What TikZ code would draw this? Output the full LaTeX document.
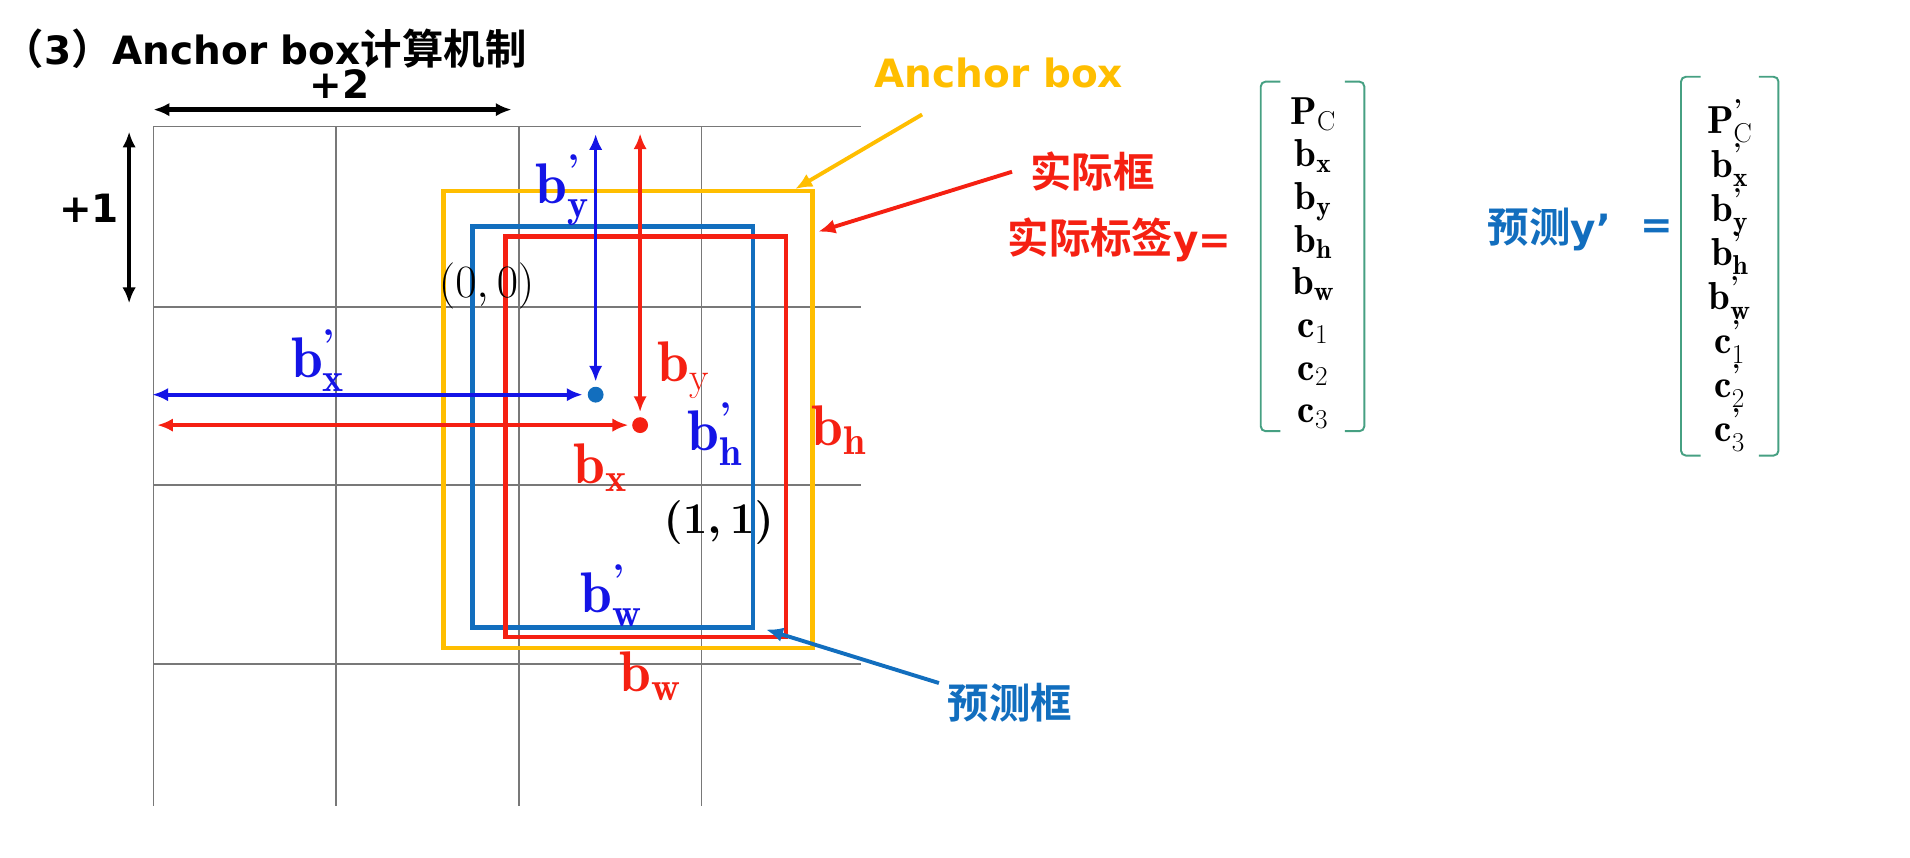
\documentclass[tikz,border=0pt]{standalone}
\usepackage{fix-cm}
\usepackage{amsmath}
\usepackage{fontspec}
\usetikzlibrary{arrows.meta,matrix,positioning}

\newfontfamily\cjk{Noto Sans CJK SC Bold}
\newfontfamily\latb{DejaVu Sans Bold}
\newcommand\zh[1]{{\cjk\fontsize{34}{40}\selectfont #1}}
\newcommand\bpr{^{\textbf{'}}}

\definecolor{ancgold}{RGB}{255,190,0}
\definecolor{truered}{RGB}{245,32,18}
\definecolor{predblue}{RGB}{18,110,190}
\definecolor{dimblue}{RGB}{20,20,230}
\definecolor{brkgreen}{RGB}{70,160,130}
\definecolor{cellgray}{RGB}{120,120,120}

\tikzset{
  sans/.style={font=\latb\fontsize{32}{38}\selectfont, inner sep=0pt},
  cjklbl/.style={font=\cjk\fontsize{34}{40}\selectfont, inner sep=0pt},
  blab/.style={font=\fontsize{47}{56}\selectfont, inner sep=0pt},
  boxframe/.style={draw, line width=3.6pt, inner sep=0pt},
  dot/.style={circle, inner sep=0pt, minimum size=13pt},
  dimarrow/.style={{Latex[length=13pt,width=11pt]}-{Latex[length=13pt,width=11pt]}, line width=3pt},
  callout/.style={-{Latex[length=14pt,width=12pt]}, line width=3.2pt},
  brk/.style={brkgreen, line width=1.6pt, rounded corners=4pt}
}

\begin{document}
\begin{tikzpicture}[x=1pt,y=-1pt]
    \useasboundingbox (0,0) rectangle (1568,704);

    % Title
    \node[sans, anchor=west] (title) at (2,40) {\zh{（}3\zh{）}Anchor box\zh{计算机制}};

    % Draw the grid
    \foreach \x in {126,276,426,576} {
        \draw[cellgray, line width=1.2pt] (\x,104) -- (\x,662);
    }
    \foreach \y in {104,252,398,545} {
        \draw[cellgray, line width=1.2pt] (126,\y) -- (707,\y);
    }

    % Cell size
    \coordinate (w0) at (126,90);
    \coordinate (w1) at (420,90);
    \coordinate (h0) at (106,108);
    \coordinate (h1) at (106,249);
    \draw[dimarrow, line width=3.6pt] (w0) -- (w1);
    \draw[dimarrow, line width=3.6pt] (h0) -- (h1);
    \node[sans] (plus2) at (279,69) {+2};
    \node[sans] (plus1) at (73,171) {+1};

    % Boxes
    \node[boxframe, ancgold, minimum width=303pt, minimum height=375pt] (ancbox) at (515.5,344.5) {};
    \node[boxframe, predblue, minimum width=230pt, minimum height=329pt] (predbox) at (503,350.5) {};
    \node[boxframe, truered, minimum width=230pt, minimum height=329pt] (truebox) at (530,358.5) {};

    % Centres and offsets
    \node[dot, fill=predblue] (ctrP) at (489,324) {};
    \node[dot, fill=truered] (ctrT) at (525.5,349) {};
    \coordinate (pTop) at (489,110);
    \coordinate (pLeft) at (125,324);
    \coordinate (tTop) at (525.5,109.5);
    \coordinate (tLeft) at (129,349);
    \draw[dimarrow, dimblue, shorten >=4pt] (pTop) -- (ctrP);
    \draw[dimarrow, dimblue, shorten >=4pt] (pLeft) -- (ctrP);
    \draw[dimarrow, truered, shorten >=4pt] (tTop) -- (ctrT);
    \draw[dimarrow, truered, shorten >=3pt] (tLeft) -- (ctrT);

    \node[font=\fontsize{38}{42}\selectfont, inner sep=0pt] (orig) at (399.5,235) {$(0,0)$};
    \node[font=\fontsize{36}{40}\selectfont, inner sep=0pt] (unit) at (590,429) {$\boldsymbol{(1,1)}$};

    \node[blab, dimblue] (lbpy) at (462,156) {$\mathbf{b}\bpr_{\mathbf{y}}$};
    \node[blab, dimblue] (lbpx) at (261,296) {$\mathbf{b}\bpr_{\mathbf{x}}$};
    \node[blab, truered] (lby) at (561,304) {$\mathbf{b}_{\mathrm{y}}$};
    \node[blab, dimblue] (lbph) at (587,356) {$\mathbf{b}\bpr_{\mathbf{h}}$};
    \node[blab, truered] (lbh) at (689,353) {$\mathbf{b}_{\mathbf{h}}$};
    \node[blab, truered] (lbx) at (493,384) {$\mathbf{b}_{\mathbf{x}}$};
    \node[blab, dimblue] (lbpw) at (502,489) {$\mathbf{b}\bpr_{\mathbf{w}}$};
    \node[blab, truered] (lbw) at (534,555) {$\mathbf{b}_{\mathbf{w}}$};

    % Call-outs
    \node[sans, ancgold] (anclbl) at (820,60) {Anchor box};
    \node[cjklbl, truered] (truelbl) at (897,141) {实际框};
    \node[cjklbl, predblue] (predlbl) at (829,577) {预测框};
    \coordinate (ancTail) at (757,94);
    \draw[callout, ancgold] (ancTail) -- ([xshift=-16pt]ancbox.north east);
    \draw[callout, truered] ([xshift=-15pt]truelbl.west) -- ([shift={(3,35)}]ancbox.north east);
    \draw[callout, predblue] ([xshift=-7pt]predlbl.north west) -- ([xshift=9pt]predbox.south east);

    % Label vectors
    \node[cjklbl, truered] (ylbl) at (919,197) {实际标签{\latb\fontsize{32}{38}\selectfont y=}};
    \matrix (ytrue) [matrix of math nodes, row sep=0pt, inner sep=0pt,
        nodes={font=\fontsize{32}{38}\selectfont, inner sep=0pt, anchor=center, text height=24pt, text depth=11pt}]
        at (1078,218) {
        \mathbf{P}_{\mathrm{C}} \\
        \mathbf{b}_{\mathbf{x}} \\
        \mathbf{b}_{\mathbf{y}} \\
        \mathbf{b}_{\mathbf{h}} \\
        \mathbf{b}_{\mathbf{w}} \\
        \mathbf{c}_{1} \\
        \mathbf{c}_{2} \\
        \mathbf{c}_{3} \\
    };
    \draw[brk] ([shift={(-27,-151)}]ytrue.center) -- ([shift={(-43,-151)}]ytrue.center)
        -- ([shift={(-43,136)}]ytrue.center) -- ([shift={(-27,136)}]ytrue.center);
    \draw[brk] ([shift={(26,-151)}]ytrue.center) -- ([shift={(42,-151)}]ytrue.center)
        -- ([shift={(42,136)}]ytrue.center) -- ([shift={(26,136)}]ytrue.center);

    \node[cjklbl, predblue] (yplbl) at (1272,188) {预测{\latb\fontsize{32}{38}\selectfont y’}};
    \node[sans, predblue] (eqlbl) at (1360,188) {=};
    \matrix (ypred) [matrix of math nodes, row sep=0pt, inner sep=0pt,
        nodes={font=\fontsize{32}{38}\selectfont, inner sep=0pt, anchor=center, text height=25pt, text depth=11.2pt}]
        at (1420,229) {
        \mathbf{P}\bpr_{\mathrm{C}} \\
        \mathbf{b}\bpr_{\mathbf{x}} \\
        \mathbf{b}\bpr_{\mathbf{y}} \\
        \mathbf{b}\bpr_{\mathbf{h}} \\
        \mathbf{b}\bpr_{\mathbf{w}} \\
        \mathbf{c}\bpr_{1} \\
        \mathbf{c}\bpr_{2} \\
        \mathbf{c}\bpr_{3} \\
    };
    \draw[brk] ([shift={(-24,-166)}]ypred.center) -- ([shift={(-40,-166)}]ypred.center)
        -- ([shift={(-40,145)}]ypred.center) -- ([shift={(-24,145)}]ypred.center);
    \draw[brk] ([shift={(24,-166)}]ypred.center) -- ([shift={(40,-166)}]ypred.center)
        -- ([shift={(40,145)}]ypred.center) -- ([shift={(24,145)}]ypred.center);
\end{tikzpicture}
\end{document}
